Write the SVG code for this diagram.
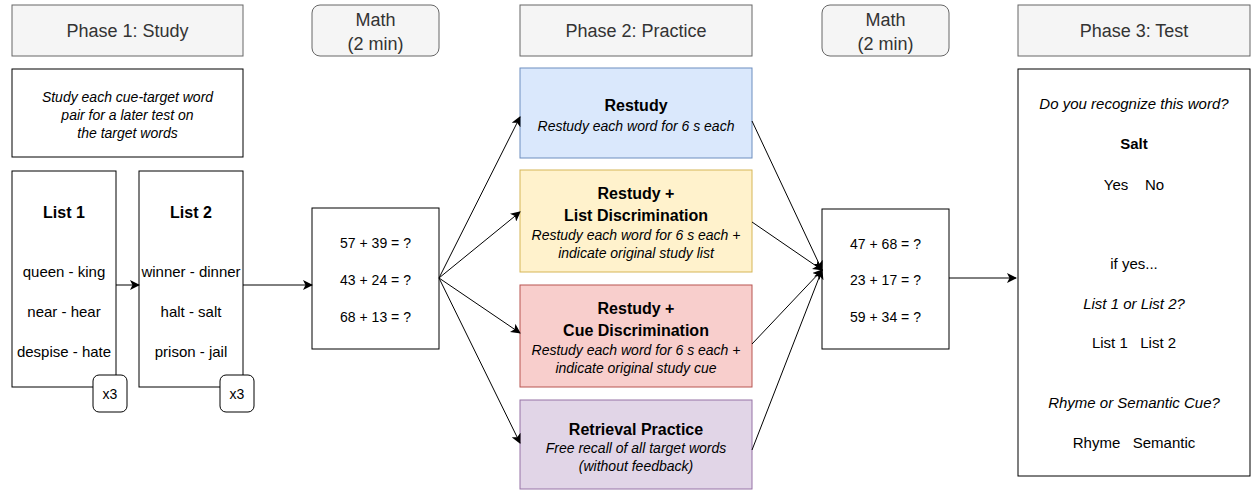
<svg xmlns="http://www.w3.org/2000/svg" width="1251" height="496" viewBox="0 0 1251 496">
<defs>
<marker id="arr" viewBox="0 0 10 10" refX="9" refY="5" markerWidth="10" markerHeight="10" markerUnits="userSpaceOnUse" orient="auto">
<path d="M0,0 L10,5 L0,10 L2.5,5 Z" fill="#000"/>
</marker>
<style>
text{font-family:"Liberation Sans",Arial,sans-serif;fill:#000;text-anchor:middle;dominant-baseline:central}
.hdr{fill:#f5f5f5;stroke:#666;stroke-width:1}
.hdrt{font-size:18px;fill:#333}
.box{fill:#fff;stroke:#000;stroke-width:1}
.it{font-style:italic;font-size:14px}
.it15{font-style:italic;font-size:15px}
.t14{font-size:14px}
.t15{font-size:15px}
.t13{font-size:13px}
.b15{font-weight:bold;font-size:15px}
.b16{font-weight:bold;font-size:16px}
.edge{fill:none;stroke:#000;stroke-width:1;marker-end:url(#arr)}
</style>
</defs>
<rect width="1251" height="496" fill="#fff"/>

<g id="phase1">
<rect class="hdr" x="12" y="5" width="231" height="51"/>
<text class="hdrt" x="127.5" y="31">Phase 1: Study</text>
</g>
<g id="math1hdr">
<rect class="hdr" x="312" y="5" width="127" height="51" rx="8"/>
<text class="hdrt" x="375.5" y="20">Math</text>
<text class="hdrt" x="375.5" y="44">(2 min)</text>
</g>
<g id="phase2">
<rect class="hdr" x="520" y="5" width="232" height="51"/>
<text class="hdrt" x="636" y="31">Phase 2: Practice</text>
</g>
<g id="math2hdr">
<rect class="hdr" x="822" y="5" width="127" height="51" rx="8"/>
<text class="hdrt" x="885.5" y="20">Math</text>
<text class="hdrt" x="885.5" y="44">(2 min)</text>
</g>
<g id="phase3">
<rect class="hdr" x="1018" y="5" width="232" height="51"/>
<text class="hdrt" x="1134" y="31">Phase 3: Test</text>
</g>

<g id="instruction">
<rect class="box" x="12" y="69" width="231" height="88"/>
<text class="it" x="127.5" y="97">Study each cue-target word</text>
<text class="it" x="127.5" y="115">pair for a later test on</text>
<text class="it" x="127.5" y="133">the target words</text>
</g>

<g id="list1">
<rect class="box" x="12" y="171" width="104" height="216"/>
<text class="b16" x="64" y="212">List 1</text>
<text class="t15" x="64" y="271">queen - king</text>
<text class="t15" x="64" y="311">near - hear</text>
<text class="t15" x="64" y="351">despise - hate</text>
</g>
<g id="x3a">
<rect class="box" x="93" y="375" width="34" height="37" rx="6"/>
<text class="t14" x="110" y="394">x3</text>
</g>
<g id="list2">
<rect class="box" x="139" y="171" width="104" height="216"/>
<text class="b16" x="191" y="212">List 2</text>
<text class="t15" x="191" y="271">winner - dinner</text>
<text class="t15" x="191" y="311">halt - salt</text>
<text class="t15" x="191" y="351">prison - jail</text>
</g>
<g id="x3b">
<rect class="box" x="220" y="375" width="34" height="37" rx="6"/>
<text class="t14" x="237" y="394">x3</text>
</g>

<g id="math1">
<rect class="box" x="312" y="208" width="127" height="141"/>
<text class="t14" x="375.5" y="243">57 + 39 = ?</text>
<text class="t14" x="375.5" y="280">43 + 24 = ?</text>
<text class="t14" x="375.5" y="317">68 + 13 = ?</text>
</g>

<g id="restudy">
<rect x="520" y="68" width="232" height="90" fill="#dae8fc" stroke="#6c8ebf"/>
<text class="b16" x="636" y="105">Restudy</text>
<text class="it" x="636" y="126">Restudy each word for 6 s each</text>
</g>
<g id="listdisc">
<rect x="520" y="170" width="232" height="102" fill="#fff2cc" stroke="#d6b656"/>
<text class="b16" x="636" y="193">Restudy +</text>
<text class="b16" x="636" y="215">List Discrimination</text>
<text class="it" x="636" y="235">Restudy each word for 6 s each +</text>
<text class="it" x="636" y="253">indicate original study list</text>
</g>
<g id="cuedisc">
<rect x="520" y="285" width="232" height="102" fill="#f8cecc" stroke="#b85450"/>
<text class="b16" x="636" y="308">Restudy +</text>
<text class="b16" x="636" y="330">Cue Discrimination</text>
<text class="it" x="636" y="350">Restudy each word for 6 s each +</text>
<text class="it" x="636" y="368">indicate original study cue</text>
</g>
<g id="retrieval">
<rect x="520" y="400" width="232" height="89" fill="#e1d5e7" stroke="#9673a6"/>
<text class="b16" x="636" y="429">Retrieval Practice</text>
<text class="it" x="636" y="448">Free recall of all target words</text>
<text class="it" x="636" y="466">(without feedback)</text>
</g>

<g id="math2">
<rect class="box" x="822" y="209" width="127" height="140"/>
<text class="t14" x="885.5" y="244">47 + 68 = ?</text>
<text class="t14" x="885.5" y="280">23 + 17 = ?</text>
<text class="t14" x="885.5" y="317">59 + 34 = ?</text>
</g>

<g id="test">
<rect class="box" x="1018" y="69" width="232" height="407"/>
<text class="it15" x="1134" y="103">Do you recognize this word?</text>
<text class="b15" x="1134" y="143">Salt</text>
<text class="t15" x="1134" y="184" xml:space="preserve">Yes    No</text>
<text class="t15" x="1134" y="263">if yes...</text>
<text class="it15" x="1134" y="303">List 1 or List 2?</text>
<text class="t15" x="1134" y="342" xml:space="preserve">List 1   List 2</text>
<text class="it15" x="1134" y="402">Rhyme or Semantic Cue?</text>
<text class="t15" x="1134" y="442" xml:space="preserve">Rhyme   Semantic</text>
</g>

<g id="connectors">
<path class="edge" d="M116,285 L139,285"/>
<path class="edge" d="M243,285 L312,285"/>
<path class="edge" d="M439,278 L520,117"/>
<path class="edge" d="M439,278 L520,212"/>
<path class="edge" d="M439,278 L520,333"/>
<path class="edge" d="M439,278 L520,443"/>
<path class="edge" d="M752,121 L822,270"/>
<path class="edge" d="M752,222 L822,270"/>
<path class="edge" d="M752,344 L822,270"/>
<path class="edge" d="M752,450 L822,270"/>
<path class="edge" d="M949,278 L1016,278"/>
</g>
</svg>
